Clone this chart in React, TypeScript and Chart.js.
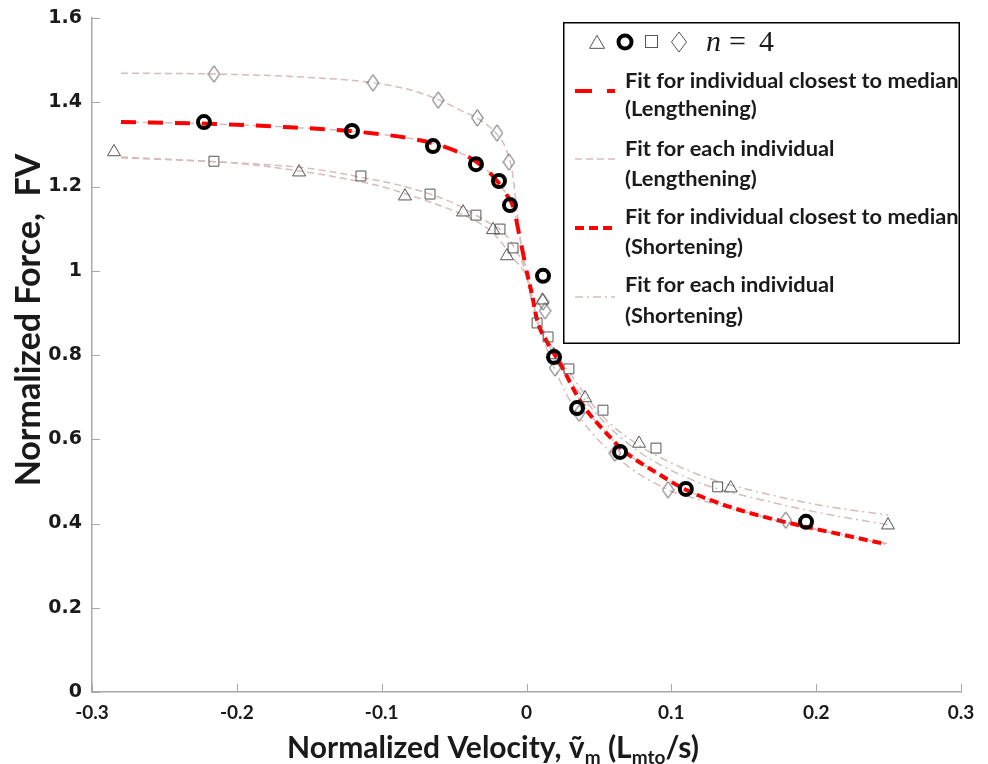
import { useEffect, useRef } from "react";
import { Chart, registerables } from "chart.js";

Chart.register(...registerables);

// ---- Axis ticks ----
const X_TICKS = [-0.3, -0.2, -0.1, 0, 0.1, 0.2, 0.3];
const X_TICK_LABELS = ["-0.3", "-0.2", "-0.1", "0", "0.1", "0.2", "0.3"];
const Y_TICKS = [0, 0.2, 0.4, 0.6, 0.8, 1, 1.2, 1.4, 1.6];
const Y_TICK_LABELS = ["0", "0.2", "0.4", "0.6", "0.8", "1", "1.2", "1.4", "1.6"];

// ---- Measured force-velocity samples (one marker per individual) ----
const triX = [-0.2848, -0.157, -0.0839, -0.0438, -0.0231, -0.0135, 0.011, 0.019, 0.0404, 0.0777, 0.141, 0.2496];
const triY = [1.282, 1.234, 1.177, 1.139, 1.097, 1.035, 0.93, 0.8, 0.698, 0.59, 0.484, 0.396];

const circX = [-0.2227, -0.1205, -0.0646, -0.0349, -0.019, -0.0114, 0.0114, 0.019, 0.0349, 0.0646, 0.11, 0.193];
const circY = [1.353, 1.332, 1.296, 1.253, 1.213, 1.156, 0.988, 0.795, 0.674, 0.57, 0.482, 0.404];

const sqX = [-0.2158, -0.1143, -0.0666, -0.0349, -0.0183, -0.0093, 0.0073, 0.0149, 0.0293, 0.0528, 0.0894, 0.132];
const sqY = [1.26, 1.225, 1.182, 1.132, 1.099, 1.054, 0.876, 0.843, 0.767, 0.669, 0.579, 0.487];

const diaX = [-0.2158, -0.106, -0.061, -0.034, -0.0204, -0.0121, 0.0114, 0.0128, 0.0197, 0.0363, 0.0611, 0.0977, 0.179];
const diaY = [1.467, 1.446, 1.405, 1.363, 1.327, 1.258, 0.926, 0.905, 0.769, 0.662, 0.567, 0.48, 0.408];

// ---- Fitted curves, individual closest to median (circles) ----
const medLenX = [-0.28, -0.22, -0.16, -0.12, -0.08, -0.06, -0.04, -0.03, -0.02, -0.014, -0.009, -0.005, -0.002, 0];
const medLenY = [1.353, 1.349, 1.34, 1.331, 1.314, 1.298, 1.27, 1.247, 1.212, 1.182, 1.15, 1.085, 1.035, 1.0];
const medShoX = [0, 0.004, 0.0073, 0.015, 0.023, 0.038, 0.0577, 0.0666, 0.09, 0.11, 0.13, 0.152, 0.193, 0.22, 0.248];
const medShoY = [1.0, 0.94, 0.883, 0.826, 0.781, 0.686, 0.605, 0.574, 0.52, 0.48, 0.452, 0.427, 0.392, 0.372, 0.351];

// ---- Fitted curves for the other individuals ----
const diaLenX = [-0.28, -0.2158, -0.15, -0.105, -0.08, -0.06, -0.045, -0.034, -0.025, -0.02, -0.015, -0.01, -0.0066, -0.003, 0];
const diaLenY = [1.469, 1.467, 1.459, 1.446, 1.429, 1.405, 1.38, 1.362, 1.34, 1.322, 1.296, 1.239, 1.144, 1.04, 0.99];
const diaShoX = [0, 0.004, 0.0114, 0.0197, 0.0363, 0.0646, 0.0977, 0.113, 0.154, 0.177, 0.21, 0.2496];
const diaShoY = [0.99, 0.92, 0.84, 0.765, 0.655, 0.551, 0.48, 0.463, 0.423, 0.404, 0.378, 0.352];

const sqLenX = [-0.28, -0.2158, -0.15, -0.1143, -0.09, -0.0666, -0.05, -0.035, -0.025, -0.018, -0.012, -0.009, -0.005, -0.002, 0];
const sqLenY = [1.27, 1.259, 1.243, 1.222, 1.205, 1.182, 1.16, 1.132, 1.112, 1.098, 1.075, 1.058, 1.035, 1.01, 0.99];
const sqShoX = [0, 0.004, 0.0073, 0.015, 0.0293, 0.0525, 0.08, 0.0894, 0.11, 0.132, 0.154, 0.2, 0.2496];
const sqShoY = [0.99, 0.93, 0.89, 0.835, 0.76, 0.655, 0.58, 0.562, 0.528, 0.5, 0.48, 0.445, 0.42];

const triLenX = [-0.28, -0.2, -0.157, -0.12, -0.1, -0.0839, -0.06, -0.0438, -0.03, -0.0231, -0.0135, -0.008, -0.004, 0];
const triLenY = [1.268, 1.255, 1.237, 1.215, 1.2, 1.183, 1.155, 1.133, 1.108, 1.09, 1.05, 1.025, 1.01, 0.99];
const triShoX = [0, 0.004, 0.0073, 0.015, 0.0293, 0.0525, 0.08, 0.11, 0.132, 0.154, 0.2, 0.2496];
const triShoY = [0.99, 0.925, 0.88, 0.825, 0.745, 0.645, 0.565, 0.51, 0.482, 0.463, 0.427, 0.397];

const LEGEND_ROWS = [
  ["Fit for individual closest to median", "(Lengthening)"],
  ["Fit for each individual", "(Lengthening)"],
  ["Fit for individual closest to median", "(Shortening)"],
  ["Fit for each individual", "(Shortening)"],
];

const RED = "#ff0000";
const PINK = "#d6bcbc";
const MARK = "#555555";
const AXIS = "#a8a8a8";
const TEXT = "#1a1a1a";

const LEN_RED_DASH = [15, 12];
const SHO_RED_DASH = [9, 5];
const LEN_PINK_DASH = [7, 4];
const SHO_PINK_DASH = [8, 4, 2, 4];

const pts = (xs: number[], ys: number[]) => xs.map((x, i) => ({ x, y: ys[i] }));

function curve(xs: number[], ys: number[], color: string, width: number, dash: number[], order: number) {
  return {
    data: pts(xs, ys),
    showLine: true,
    borderColor: color,
    borderWidth: width,
    borderDash: dash,
    borderCapStyle: "butt",
    pointRadius: 0,
    pointHoverRadius: 0,
    fill: false,
    cubicInterpolationMode: "monotone",
    order,
  };
}

function markers(xs: number[], ys: number[], style: any, radius: number, color: string, width: number) {
  return {
    data: pts(xs, ys),
    showLine: false,
    pointStyle: style,
    pointRadius: radius,
    pointHoverRadius: radius,
    pointBorderColor: color,
    pointBorderWidth: width,
    pointBackgroundColor: "rgba(0,0,0,0)",
    order: 0,
  };
}

function makeDiamond(w: number, h: number, color: string) {
  const c = document.createElement("canvas");
  c.width = w;
  c.height = h;
  const g = c.getContext("2d")!;
  g.strokeStyle = color;
  g.lineWidth = 1;
  g.beginPath();
  g.moveTo(w / 2, 0.8);
  g.lineTo(w - 0.8, h / 2);
  g.lineTo(w / 2, h - 0.8);
  g.lineTo(0.8, h / 2);
  g.closePath();
  g.stroke();
  return c;
}

function drawTriangle(ctx: CanvasRenderingContext2D, x: number, y: number, s: number) {
  const h = (s * Math.sqrt(3)) / 2;
  ctx.beginPath();
  ctx.moveTo(x, y - (2 / 3) * h);
  ctx.lineTo(x + s / 2, y + h / 3);
  ctx.lineTo(x - s / 2, y + h / 3);
  ctx.closePath();
  ctx.stroke();
}

const decor = {
  id: "decor",
  beforeDatasetsDraw(chart: any) {
    const { ctx, chartArea, scales } = chart;
    const { left, bottom } = chartArea;
    ctx.save();
    ctx.strokeStyle = AXIS;
    ctx.lineWidth = 1;
    for (const v of X_TICKS) {
      const px = Math.round(scales.x.getPixelForValue(v)) + 0.5;
      ctx.beginPath();
      ctx.moveTo(px, bottom);
      ctx.lineTo(px, bottom - 8);
      ctx.stroke();
    }
    for (const v of Y_TICKS) {
      const py = Math.round(scales.y.getPixelForValue(v)) + 0.5;
      ctx.beginPath();
      ctx.moveTo(left, py);
      ctx.lineTo(left + 8, py);
      ctx.stroke();
    }
    ctx.restore();
  },
  afterDatasetsDraw(chart: any) {
    const ctx: CanvasRenderingContext2D = chart.ctx;
    ctx.save();

    // Legend box
    const bx = 563, by = 22, bw = 397, bh = 322;
    ctx.fillStyle = "#ffffff";
    ctx.fillRect(bx, by, bw, bh);
    ctx.strokeStyle = "#000000";
    ctx.lineWidth = 1.5;
    ctx.strokeRect(bx + 0.75, by + 0.75, bw - 1.5, bh - 1.5);

    // Marker key row
    ctx.strokeStyle = MARK;
    ctx.lineWidth = 1;
    drawTriangle(ctx, 597, 44, 15);
    ctx.strokeStyle = "#000";
    ctx.lineWidth = 4;
    ctx.beginPath();
    ctx.arc(625, 42, 6.5, 0, Math.PI * 2);
    ctx.stroke();
    ctx.strokeStyle = MARK;
    ctx.lineWidth = 1;
    ctx.strokeRect(645.5, 35.5, 12, 12);
    ctx.beginPath();
    ctx.moveTo(679, 32);
    ctx.lineTo(686.5, 42);
    ctx.lineTo(679, 52);
    ctx.lineTo(671.5, 42);
    ctx.closePath();
    ctx.stroke();

    ctx.fillStyle = TEXT;
    ctx.textBaseline = "alphabetic";
    ctx.textAlign = "left";
    ctx.font = "italic 30px 'Liberation Serif'";
    ctx.fillText("n", 706, 51);
    ctx.font = "30px 'Liberation Serif'";
    ctx.fillText("=", 729, 51);
    ctx.fillText("4", 759, 51);

    // Line keys and labels
    const rows = [
      { y1: 81, y2: 109, ly: 91, color: RED, w: 4, dash: [17, 15] },
      { y1: 149, y2: 179, ly: 159, color: PINK, w: 1.5, dash: LEN_PINK_DASH },
      { y1: 217, y2: 247, ly: 228, color: RED, w: 4, dash: SHO_RED_DASH },
      { y1: 285, y2: 316, ly: 297, color: PINK, w: 1.5, dash: SHO_PINK_DASH },
    ];
    rows.forEach((r, i) => {
      ctx.strokeStyle = r.color;
      ctx.lineWidth = r.w;
      ctx.setLineDash(r.dash);
      ctx.beginPath();
      ctx.moveTo(575, r.ly);
      ctx.lineTo(615, r.ly);
      ctx.stroke();
      ctx.setLineDash([]);
      ctx.fillStyle = TEXT;
      ctx.font = "bold 21.8px Lato";
      ctx.textBaseline = "middle";
      ctx.fillText(LEGEND_ROWS[i][0], 625, r.y1);
      ctx.fillText(LEGEND_ROWS[i][1], 625, r.y2);
    });

    // Y axis title
    ctx.save();
    ctx.translate(29, 320);
    ctx.rotate(-Math.PI / 2);
    ctx.font = "bold 34px Lato";
    ctx.textAlign = "center";
    ctx.textBaseline = "middle";
    ctx.fillStyle = TEXT;
    ctx.fillText("Normalized Force,  FV", 0, 0);
    ctx.restore();

    // X axis title with subscripts
    const big = "bold 30px Lato";
    const small = "bold 19px Lato";
    const parts = [
      { t: "Normalized Velocity, ", f: big, dy: 0 },
      { t: "\u1E7D", f: big, dy: 0 },
      { t: "m", f: small, dy: 6 },
      { t: " (L", f: big, dy: 0 },
      { t: "mto", f: small, dy: 6 },
      { t: "/s)", f: big, dy: 0 },
    ];
    let total = 0;
    for (const p of parts) {
      ctx.font = p.f;
      total += ctx.measureText(p.t).width;
    }
    let cx = 493 - total / 2;
    ctx.textAlign = "left";
    ctx.textBaseline = "alphabetic";
    ctx.fillStyle = TEXT;
    for (const p of parts) {
      ctx.font = p.f;
      ctx.fillText(p.t, cx, 758 + p.dy);
      cx += ctx.measureText(p.t).width;
    }

    ctx.restore();
  },
};

export default function App() {
  const ref = useRef<HTMLCanvasElement | null>(null);

  useEffect(() => {
    if (!ref.current) return;
    const diamond = makeDiamond(13, 18, MARK);

    const datasets: any[] = [
      markers(circX, circY, "circle", 6, "#000000", 4),
      markers(triX, triY, "triangle", 7.5, MARK, 1),
      markers(sqX, sqY, "rect", 7, MARK, 1),
      markers(diaX, diaY, diamond, 7, MARK, 1),
      curve(medLenX, medLenY, RED, 4, LEN_RED_DASH, 1),
      curve(medShoX, medShoY, RED, 4, SHO_RED_DASH, 1),
      curve(medLenX, medLenY, PINK, 1.5, LEN_PINK_DASH, 2),
      curve(medShoX, medShoY, PINK, 1.5, SHO_PINK_DASH, 2),
      curve(diaLenX, diaLenY, PINK, 1.5, LEN_PINK_DASH, 2),
      curve(diaShoX, diaShoY, PINK, 1.5, SHO_PINK_DASH, 2),
      curve(sqLenX, sqLenY, PINK, 1.5, LEN_PINK_DASH, 2),
      curve(sqShoX, sqShoY, PINK, 1.5, SHO_PINK_DASH, 2),
      curve(triLenX, triLenY, PINK, 1.5, LEN_PINK_DASH, 2),
      curve(triShoX, triShoY, PINK, 1.5, SHO_PINK_DASH, 2),
    ];

    const chart = new Chart(ref.current, {
      type: "scatter",
      data: { datasets },
      options: {
        responsive: false,
        animation: false,
        events: [],
        layout: { padding: { top: 18, right: 27, left: 0, bottom: 0 } },
        plugins: { legend: { display: false }, tooltip: { enabled: false } },
        scales: {
          x: {
            type: "linear",
            min: -0.3,
            max: 0.3,
            afterBuildTicks: (s: any) => {
              s.ticks = X_TICKS.map((v) => ({ value: v }));
            },
            afterFit: (s: any) => {
              s.height = 72;
              s.paddingLeft = 0;
              s.paddingRight = 0;
            },
            ticks: {
              padding: 9,
              color: TEXT,
              font: { family: "Lato", weight: "bold", size: 19 },
              maxRotation: 0,
              autoSkip: false,
              callback: (_v: any, i: number) => X_TICK_LABELS[i],
            },
            grid: { display: false, drawTicks: false },
            border: { display: true, color: AXIS, width: 1.5 },
          },
          y: {
            type: "linear",
            min: 0,
            max: 1.6,
            afterBuildTicks: (s: any) => {
              s.ticks = Y_TICKS.map((v) => ({ value: v }));
            },
            afterFit: (s: any) => {
              s.width = 92;
              s.paddingTop = 0;
              s.paddingBottom = 0;
            },
            ticks: {
              padding: 10,
              color: TEXT,
              font: { family: "'DejaVu Sans'", weight: "bold", size: 19 },
              autoSkip: false,
              callback: (_v: any, i: number) => Y_TICK_LABELS[i],
            },
            grid: { display: false, drawTicks: false },
            border: { display: true, color: AXIS, width: 1.5 },
          },
        },
      },
      plugins: [decor],
    } as any);

    return () => chart.destroy();
  }, []);

  return (
    <div style={{ position: "absolute", left: 0, top: 0, width: 988, height: 764, background: "#fff" }}>
      <canvas ref={ref} width={988} height={764} style={{ display: "block" }} />
    </div>
  );
}
